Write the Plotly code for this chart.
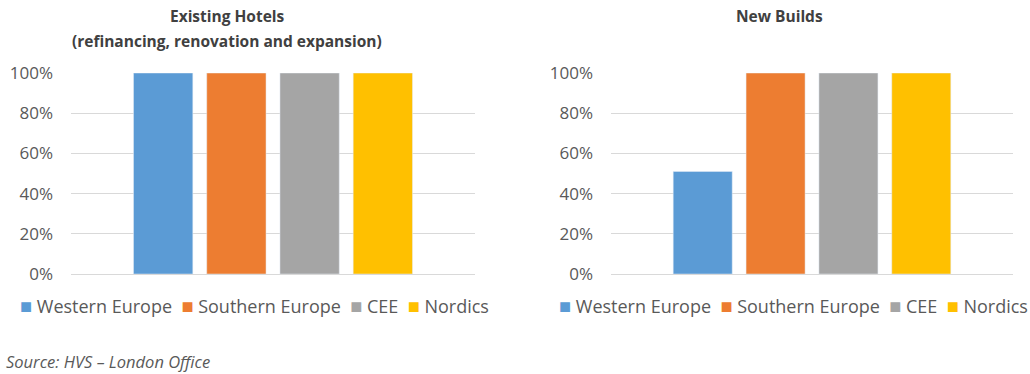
import plotly.graph_objects as go

series = ["Western Europe", "Southern Europe", "CEE", "Nordics"]
colors = ["#5B9BD5", "#ED7D31", "#A5A5A5", "#FFC000"]
existing = [1.00, 1.00, 1.00, 1.00]
new_builds = [0.51, 1.00, 1.00, 1.00]
category = ["All"]
ytick_vals = [0, 0.2, 0.4, 0.6, 0.8, 1.0]

W, H = 1030, 374
FONT = "Open Sans"
fig = go.Figure()
for name, col, v in zip(series, colors, existing):
    fig.add_trace(go.Bar(x=category, y=[v], name=name, marker_color=col,
                         xaxis="x", yaxis="y", showlegend=False))
for name, col, v in zip(series, colors, new_builds):
    fig.add_trace(go.Bar(x=category, y=[v], name=name, marker_color=col,
                         xaxis="x2", yaxis="y2", showlegend=False))

def ypos(px):
    return 1 - px / H

ydom = [ypos(274), ypos(73)]
yax = dict(range=[0, 1], tickvals=ytick_vals, tickformat=".0%", showgrid=True,
           gridcolor="#D9D9D9", gridwidth=1, zeroline=True, zerolinecolor="#D9D9D9",
           zerolinewidth=1, tickfont=dict(family=FONT, size=17, color="#595959"),
           ticks="", ticklen=0, ticklabelstandoff=17, domain=ydom, automargin=False)
xax = dict(showticklabels=False, ticks="", showgrid=False, zeroline=False,
           range=[-0.5, 0.5], type="category", automargin=False)

fig.update_layout(
    width=W, height=H,
    margin=dict(l=0, r=0, t=0, b=0),
    paper_bgcolor="white", plot_bgcolor="white",
    barmode="group", bargap=0.275, bargroupgap=0.19,
    xaxis=dict(xax, domain=[71 / W, 475 / W], anchor="y"),
    yaxis=dict(yax, anchor="x"),
    xaxis2=dict(xax, domain=[611 / W, 1013 / W], anchor="y2"),
    yaxis2=dict(yax, anchor="x2"),
    showlegend=False,
)

# Legend rows built as text (coloured squares + series names)
def legend_text():
    parts = []
    for name, col in zip(series, colors):
        parts.append(f"<span style='color:{col};font-size:20px'>■</span>&nbsp;{name}")
    return " &nbsp;".join(parts)

legfont = dict(family=FONT, size=18, color="#595959")
for x0 in (18, 557):
    fig.add_annotation(text=legend_text(), x=x0 / W, y=ypos(305), xref="paper", yref="paper",
                       showarrow=False, xanchor="left", yanchor="middle", font=legfont)

title_font = dict(family=FONT, size=15.5, color="#404040")
fig.add_annotation(text="<b>Existing Hotels</b>", x=227 / W, y=ypos(16), xref="paper", yref="paper",
                   showarrow=False, font=title_font, xanchor="center", yanchor="middle")
fig.add_annotation(text="<b>(refinancing, renovation and expansion)</b>", x=227 / W, y=ypos(41),
                   xref="paper", yref="paper", showarrow=False, font=title_font,
                   xanchor="center", yanchor="middle")
fig.add_annotation(text="<b>New Builds</b>", x=779 / W, y=ypos(16), xref="paper", yref="paper",
                   showarrow=False, font=title_font, xanchor="center", yanchor="middle")
fig.add_annotation(text="<i>Source: HVS – London Office</i>", x=4 / W, y=ypos(361), xref="paper",
                   yref="paper", showarrow=False, xanchor="left", yanchor="middle",
                   font=dict(family=FONT, size=16.5, color="#595959"))

fig.write_html("out.html", config={"displayModeBar": False},
               post_script="document.body.style.margin='0';document.body.style.overflow='hidden';")
